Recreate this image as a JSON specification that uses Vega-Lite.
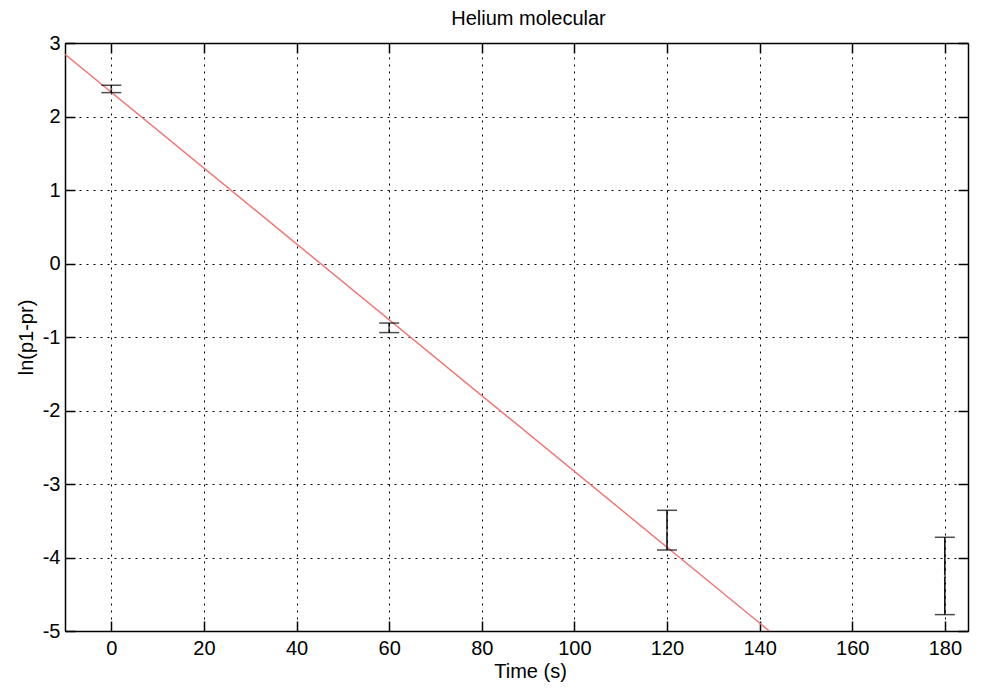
{
  "$schema": "https://vega.github.io/schema/vega-lite/v6.json",
  "width": 903,
  "height": 588,
  "autosize": {"type": "none"},
  "padding": {"left": 65, "top": 43, "right": 17, "bottom": 58},
  "background": "white",
  "title": {"text": "Helium molecular", "fontSize": 20, "fontWeight": "normal", "font": "Liberation Sans", "color": "black", "offset": 4, "dx": 12},
  "config": {
    "view": {"stroke": "black", "strokeWidth": 1},
    "axis": {
      "labelFont": "Liberation Sans",
      "titleFont": "Liberation Sans",
      "labelFontSize": 20,
      "titleFontSize": 20,
      "titleFontWeight": "normal",
      "labelColor": "black",
      "titleColor": "black",
      "domainColor": "black",
      "tickColor": "black",
      "tickSize": -10,
      "tickWidth": 1.5,
      "domainWidth": 1.5,
      "gridColor": "black",
      "gridOpacity": 1,
      "gridDash": [2, 5],
      "gridWidth": 1
    }
  },
  "datasets": {
    "points": [
      {"time": 0, "lo": 2.325, "hi": 2.425, "mid": 2.375},
      {"time": 60, "lo": -0.94, "hi": -0.81, "mid": -0.875},
      {"time": 120, "lo": -3.898, "hi": -3.358, "mid": -3.634},
      {"time": 180, "lo": -4.777, "hi": -3.725, "mid": -4.25}
    ],
    "fit": [
      {"time": -10, "ln": 2.846},
      {"time": 142.1, "ln": -5}
    ]
  },
  "layer": [
    {
      "data": {"name": "fit"},
      "mark": {"type": "line", "color": "#f07878", "strokeWidth": 1.5, "clip": true},
      "encoding": {
        "x": {"field": "time", "type": "quantitative", "scale": {"domain": [-10, 185], "nice": false, "zero": false},
              "axis": {"title": "Time (s)", "values": [0, 20, 40, 60, 80, 100, 120, 140, 160, 180], "grid": true, "labelPadding": 17, "titlePadding": 3, "titleX": 465}},
        "y": {"field": "ln", "type": "quantitative", "scale": {"domain": [-5, 3], "nice": false, "zero": false},
              "axis": {"title": "ln(p1-pr)", "values": [-5, -4, -3, -2, -1, 0, 1, 2, 3], "grid": true, "labelPadding": 15, "titlePadding": 6,
                       "labelExpr": "replace(datum.label, '\u2212', '-')"}}
      }
    },
    {
      "data": {"name": "points"},
      "mark": {"type": "rule", "color": "black", "strokeWidth": 1.5},
      "encoding": {
        "x": {"field": "time", "type": "quantitative", "axis": {"orient": "top", "values": [0, 20, 40, 60, 80, 100, 120, 140, 160, 180], "labels": false, "title": null, "grid": false}},
        "y": {"field": "lo", "type": "quantitative", "axis": {"orient": "right", "values": [-5, -4, -3, -2, -1, 0, 1, 2, 3], "labels": false, "title": null, "grid": false}},
        "y2": {"field": "hi"}
      }
    },
    {
      "data": {"name": "points"},
      "mark": {"type": "tick", "orient": "horizontal", "color": "black", "size": 20, "thickness": 1.5},
      "encoding": {
        "x": {"field": "time", "type": "quantitative", "axis": null},
        "y": {"field": "lo", "type": "quantitative", "axis": null}
      }
    },
    {
      "data": {"name": "points"},
      "mark": {"type": "tick", "orient": "horizontal", "color": "black", "size": 20, "thickness": 1.5},
      "encoding": {
        "x": {"field": "time", "type": "quantitative", "axis": null},
        "y": {"field": "hi", "type": "quantitative", "axis": null}
      }
    },
    {
      "data": {"name": "points"},
      "mark": {"type": "point", "filled": true, "color": "#999999", "size": 6},
      "encoding": {
        "x": {"field": "time", "type": "quantitative", "axis": null},
        "y": {"field": "mid", "type": "quantitative", "axis": null}
      }
    }
  ],
  "resolve": {"axis": {"x": "independent", "y": "independent"}}
}
